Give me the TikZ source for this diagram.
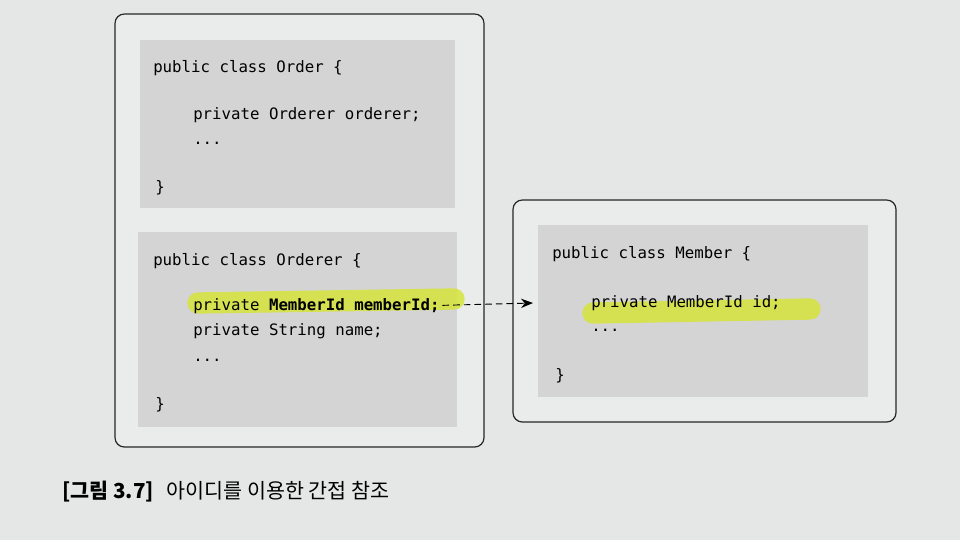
\documentclass[tikz,border=0pt]{standalone}
\usepackage{fontspec}
\setmonofont{DejaVu Sans Mono}
\newfontfamily\kofont{Noto Sans CJK KR}
\usetikzlibrary{arrows.meta}
\definecolor{pagebg}{RGB}{229,230,230}
\definecolor{boxbg}{RGB}{234,235,235}
\definecolor{codebg}{RGB}{212,212,212}
\definecolor{marker}{RGB}{214,228,58}
\tikzset{
  outerbox/.style={draw=black!85, line width=0.9pt, rounded corners=7pt, fill=boxbg},
  codebox/.style={fill=codebg},
  codeline/.style={anchor=base west, inner sep=0pt, font=\ttfamily\fontsize{11.8}{13}\selectfont},
  highlight/.style={draw=marker, line width=16pt, line cap=round, opacity=0.85}
}
\begin{document}
\begin{tikzpicture}[x=0.75pt, y=-0.75pt]
                \fill[pagebg] (0,0) rectangle (960,540);
                \useasboundingbox (0,0) rectangle (960,540);
                % left box: Order and Orderer
                \draw[outerbox] (115,14) rectangle (484,447);
                \fill[codebox] (140,40) rectangle (455,208);
                \fill[codebox] (138,232) rectangle (457,427);
                % right box: Member
                \draw[outerbox] (513,200) rectangle (896,422);
                \fill[codebox] (538,225) rectangle (868,397);
                % marker strokes
                \draw[highlight] (198,303) -- (454,299);
                \draw[highlight] (593,313) -- (810,309);
                % class Order
                \node[codeline] (orderHead) at (153,72) {public class Order \{};
                \node[codeline] (orderField) at (193,119) {private Orderer orderer;};
                \node[codeline] (orderDots) at (193,144) {...};
                \node[codeline] (orderEnd) at (155,192) {\}};
                % class Orderer
                \node[codeline] (ordererHead) at (153,265) {public class Orderer \{};
                \node[codeline] (ordererId) at (193,310) {private \textbf{MemberId memberId;}};
                \node[codeline] (ordererName) at (193,335) {private String name;};
                \node[codeline] (ordererDots) at (193,361) {...};
                \node[codeline] (ordererEnd) at (155,409) {\}};
                % class Member
                \node[codeline] (memberHead) at (552,258) {public class Member \{};
                \node[codeline] (memberId) at (591,307) {private MemberId id;};
                \node[codeline] (memberDots) at (591,331) {...};
                \node[codeline] (memberEnd) at (555,380) {\}};
                % reference by id
                \coordinate (idTarget) at (533,303);
                \draw[line width=0.7pt, dash pattern=on 5pt off 3pt, -{Stealth[length=9pt, width=7pt]}]
                  ([xshift=2pt, yshift=3.5pt]ordererId.base east) -- (idTarget);
                % caption
                \node[anchor=base west, inner sep=0pt, font=\kofont\fontsize{15.5}{18}\selectfont] (caption) at (62,498)
                  {\textbf{[그림 3.7]}\hspace{0.6em}아이디를 이용한 간접 참조};
            \end{tikzpicture}
\end{document}
